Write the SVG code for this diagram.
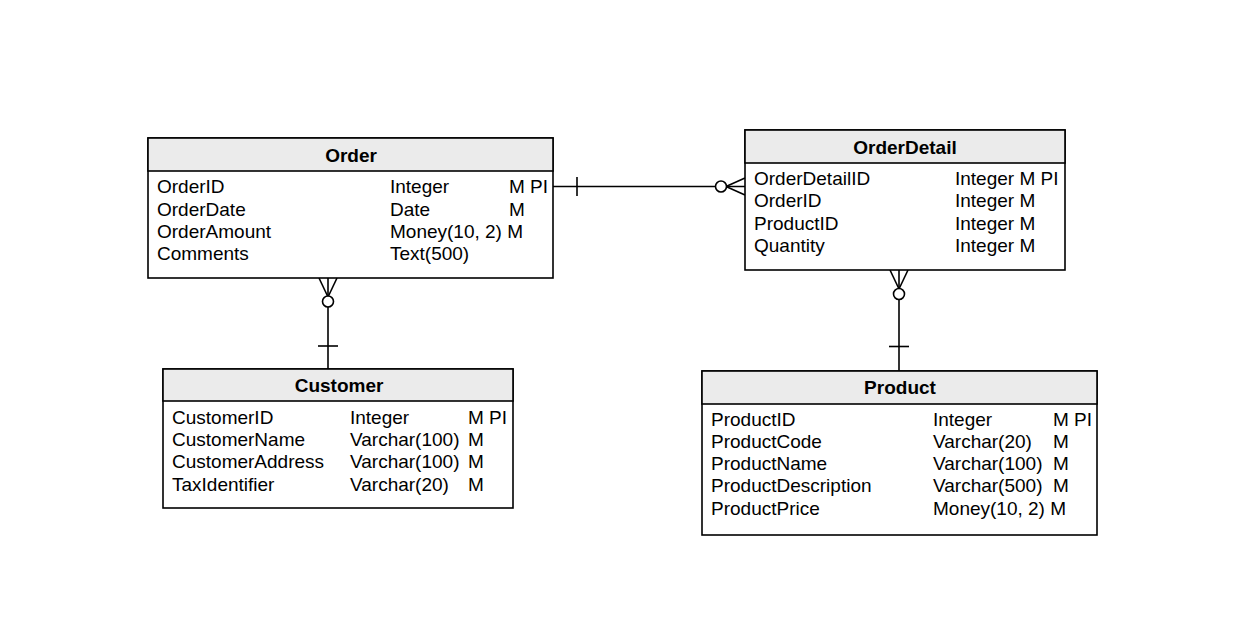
<svg xmlns="http://www.w3.org/2000/svg" width="1235" height="621" viewBox="0 0 1235 621">
<style>
text{font-family:"Liberation Sans",Arial,sans-serif;font-size:19px;fill:#000}
.t{font-weight:bold;text-anchor:middle}
.box{fill:#fff;stroke:#000;stroke-width:1.6}
.hd{fill:#ebebeb;stroke:#000;stroke-width:1.6}
.ln{fill:none;stroke:#000;stroke-width:1.6}
.c{fill:#fff;stroke:#000;stroke-width:1.6}
</style>
<rect width="1235" height="621" fill="#fff"/>
<g id="connectors">
<g id="order-orderdetail">
<line class="ln" x1="553" y1="186.5" x2="745" y2="186.5"/>
<line class="ln" x1="577" y1="177" x2="577" y2="196"/>
<line class="ln" x1="726" y1="186.5" x2="745" y2="178"/>
<line class="ln" x1="726" y1="186.5" x2="745" y2="195"/>
<circle class="c" cx="721" cy="186.5" r="5.5"/>
</g>
<g id="order-customer">
<line class="ln" x1="328" y1="278" x2="328" y2="369"/>
<line class="ln" x1="318" y1="346" x2="338" y2="346"/>
<line class="ln" x1="319" y1="278" x2="328" y2="297"/>
<line class="ln" x1="337" y1="278" x2="328" y2="297"/>
<circle class="c" cx="328" cy="301.5" r="5.5"/>
</g>
<g id="orderdetail-product">
<line class="ln" x1="899" y1="270" x2="899" y2="371"/>
<line class="ln" x1="889" y1="346.5" x2="909" y2="346.5"/>
<line class="ln" x1="890" y1="270" x2="899" y2="289"/>
<line class="ln" x1="908" y1="270" x2="899" y2="289"/>
<circle class="c" cx="899" cy="294" r="5.5"/>
</g>
</g>
<g id="order">
<rect class="box" x="148" y="138" width="405" height="140"/>
<rect class="hd" x="148" y="138" width="405" height="33"/>
<text class="t" x="351" y="162">Order</text>
<text x="157" y="193">OrderID</text><text x="390" y="193">Integer</text><text x="509" y="193">M PI</text>
<text x="157" y="216">OrderDate</text><text x="390" y="216">Date</text><text x="509" y="216">M</text>
<text x="157" y="238">OrderAmount</text><text x="390" y="238">Money(10, 2) M</text>
<text x="157" y="260">Comments</text><text x="390" y="260">Text(500)</text>
</g>
<g id="orderdetail">
<rect class="box" x="745" y="130" width="320" height="140"/>
<rect class="hd" x="745" y="130" width="320" height="33"/>
<text class="t" x="905" y="154">OrderDetail</text>
<text x="754" y="185">OrderDetailID</text><text x="955" y="185">Integer M PI</text>
<text x="754" y="207">OrderID</text><text x="955" y="207">Integer M</text>
<text x="754" y="230">ProductID</text><text x="955" y="230">Integer M</text>
<text x="754" y="252">Quantity</text><text x="955" y="252">Integer M</text>
</g>
<g id="customer">
<rect class="box" x="163" y="369" width="350" height="139"/>
<rect class="hd" x="163" y="369" width="350" height="32"/>
<text class="t" x="339" y="392">Customer</text>
<text x="172" y="424">CustomerID</text><text x="350" y="424">Integer</text><text x="468" y="424">M PI</text>
<text x="172" y="446">CustomerName</text><text x="350" y="446">Varchar(100)</text><text x="468" y="446">M</text>
<text x="172" y="468">CustomerAddress</text><text x="350" y="468">Varchar(100)</text><text x="468" y="468">M</text>
<text x="172" y="491">TaxIdentifier</text><text x="350" y="491">Varchar(20)</text><text x="468" y="491">M</text>
</g>
<g id="product">
<rect class="box" x="702" y="371" width="395" height="164"/>
<rect class="hd" x="702" y="371" width="395" height="33"/>
<text class="t" x="900" y="394">Product</text>
<text x="711" y="426">ProductID</text><text x="933" y="426">Integer</text><text x="1053" y="426">M PI</text>
<text x="711" y="448">ProductCode</text><text x="933" y="448">Varchar(20)</text><text x="1053" y="448">M</text>
<text x="711" y="470">ProductName</text><text x="933" y="470">Varchar(100)</text><text x="1053" y="470">M</text>
<text x="711" y="492">ProductDescription</text><text x="933" y="492">Varchar(500)</text><text x="1053" y="492">M</text>
<text x="711" y="515">ProductPrice</text><text x="933" y="515">Money(10, 2) M</text>
</g>
</svg>
